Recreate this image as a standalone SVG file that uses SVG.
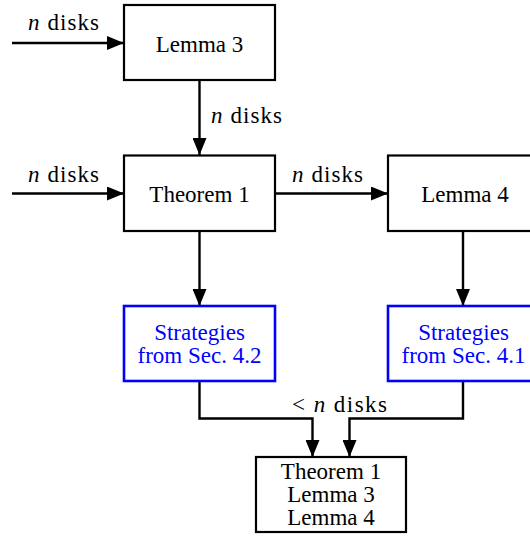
<svg xmlns="http://www.w3.org/2000/svg" width="530" height="536" viewBox="0 0 530 536" font-family="Liberation Serif, DejaVu Serif, serif" font-size="23">
<defs>
<marker id="ah" markerUnits="userSpaceOnUse" markerWidth="18" markerHeight="14" refX="17" refY="7" orient="auto">
<path d="M0,0 L17,7 L0,14 Z" fill="#000"/>
</marker>
<style>
.box{fill:#fff;stroke:#000;stroke-width:2.2}
.blue{fill:#fff;stroke:#00f;stroke-width:2.6}
.t{text-anchor:middle}
.bt{fill:#00f}
.c{fill:none;stroke:#000;stroke-width:2.4;marker-end:url(#ah)}
</style>
</defs>
<rect width="530" height="536" fill="#fff"/>
<g id="connectors">
<line class="c" x1="12" y1="43" x2="124" y2="43"/>
<line class="c" x1="12" y1="193.5" x2="124" y2="193.5"/>
<line class="c" x1="199.5" y1="80" x2="199.5" y2="155"/>
<line class="c" x1="275" y1="193.5" x2="388" y2="193.5"/>
<line class="c" x1="199.5" y1="231" x2="199.5" y2="306"/>
<line class="c" x1="463" y1="231" x2="463" y2="306"/>
<polyline class="c" points="199.5,381 199.5,418.5 312.5,418.5 312.5,457"/>
<polyline class="c" points="463,381 463,418.5 349.5,418.5 349.5,457"/>
<text x="28" y="30" textLength="71" font-family="Liberation Serif, DejaVu Serif, serif"><tspan font-style="italic">n</tspan> disks</text>
<text x="28" y="182" textLength="71" font-family="Liberation Serif, DejaVu Serif, serif"><tspan font-style="italic">n</tspan> disks</text>
<text x="211" y="123" textLength="71" font-family="Liberation Serif, DejaVu Serif, serif"><tspan font-style="italic">n</tspan> disks</text>
<text x="292" y="182" textLength="71" font-family="Liberation Serif, DejaVu Serif, serif"><tspan font-style="italic">n</tspan> disks</text>
<text x="292" y="412" textLength="95" font-family="Liberation Serif, DejaVu Serif, serif">&lt; <tspan font-style="italic">n</tspan> disks</text>
</g>
<g id="lemma3" font-family="Liberation Serif, DejaVu Serif, serif">
<rect class="box" x="124" y="5" width="151" height="75"/>
<text class="t" x="199.5" y="52">Lemma 3</text>
</g>
<g id="theorem1" font-family="Liberation Serif, DejaVu Serif, serif">
<rect class="box" x="124" y="155.5" width="151" height="75.5"/>
<text class="t" x="199.5" y="202">Theorem 1</text>
</g>
<g id="lemma4" font-family="Liberation Serif, DejaVu Serif, serif">
<rect class="box" x="388" y="155.5" width="151" height="75.5"/>
<text class="t" x="465" y="202">Lemma 4</text>
</g>
<g id="strat42" font-family="Liberation Serif, DejaVu Serif, serif">
<rect class="blue" x="124" y="306" width="151" height="75"/>
<text class="t bt" x="199.5" y="340">Strategies</text>
<text class="t bt" x="199.5" y="363">from Sec. 4.2</text>
</g>
<g id="strat41" font-family="Liberation Serif, DejaVu Serif, serif">
<rect class="blue" x="388" y="306" width="151" height="75"/>
<text class="t bt" x="463.5" y="340">Strategies</text>
<text class="t bt" x="463.5" y="363">from Sec. 4.1</text>
</g>
<g id="result" font-family="Liberation Serif, DejaVu Serif, serif">
<rect class="box" x="256" y="457" width="150" height="75"/>
<text class="t" x="331" y="479">Theorem 1</text>
<text class="t" x="331" y="502">Lemma 3</text>
<text class="t" x="331" y="525">Lemma 4</text>
</g>
</svg>
